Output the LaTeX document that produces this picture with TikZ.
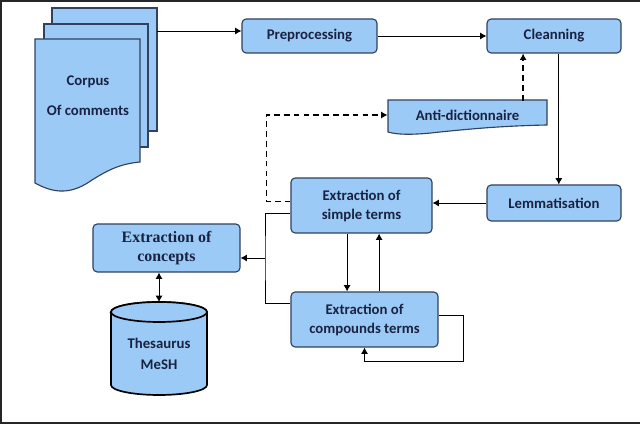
\documentclass[tikz,border=0pt]{standalone}
\usepackage{fontspec}
\setmainfont{Carlito}
\newfontfamily\timesbold{Liberation Serif}
\usepackage{tikz}
\usetikzlibrary{arrows.meta}
\definecolor{boxblue}{RGB}{156,202,246}
\definecolor{boxline}{RGB}{50,65,95}
\definecolor{textnavy}{RGB}{25,35,65}
\tikzset{
  box/.style={draw=boxline, fill=boxblue, line width=0.8pt, rounded corners=3pt,
    inner sep=0pt, align=center, text=textnavy, font=\fontsize{10.5}{12.5}\selectfont\bfseries},
  docpage/.style={draw=boxline, fill=boxblue, line width=0.8pt},
  dashline/.style={line width=1.2pt, dash pattern=on 4pt off 3pt},
}

\begin{document}
\begin{tikzpicture}[>={Latex[length=4.5pt,width=5pt]}, x=0.025cm, y=0.025cm, line width=0.6pt]
        \useasboundingbox (0,0) rectangle (640,-425);
        % frame
        \draw[line width=1pt, black!85] (640,-1) -- (1,-1) -- (1,-423) -- (640,-423);

        % corpus of comments
        \draw[docpage] (52,-8) rectangle (157,-131);
        \draw[docpage] (44,-24) rectangle (148,-147);
        \draw[docpage] (35,-39) -- (140,-39) -- (140,-162)
            .. controls (118,-164) and (105,-172) .. (92,-180)
            .. controls (75,-192) and (58,-196) .. (35,-183) -- cycle;
        \draw (88,-96) node[align=center, text=textnavy, font=\fontsize{10.5}{12.5}\selectfont\bfseries] (corpus) {Corpus\\[9pt]Of comments};
        \coordinate (corpusout) at (157,-31);

        \draw (309.5,-36) node[box, minimum width=3.375cm, minimum height=0.85cm] (prep) {Preprocessing};
        \draw (554,-36) node[box, minimum width=3.35cm, minimum height=0.85cm] (clean) {Cleanning};
        \draw (554,-203) node[box, minimum width=3.35cm, minimum height=0.9cm] (lemma) {Lemmatisation};
        \draw (361.5,-205.5) node[box, minimum width=3.525cm, minimum height=1.375cm] (simple) {Extraction of\\[1pt]simple terms};
        \draw (364.5,-319.5) node[box, minimum width=3.675cm, minimum height=1.375cm] (compound) {Extraction of\\[1pt]compounds terms};
        \draw (166.5,-248) node[box, minimum width=3.675cm, minimum height=1.2cm, font=\timesbold\fontsize{11.3}{13}\selectfont\bfseries] (concepts) {Extraction of\\concepts};

        % anti-dictionnaire
        \draw[docpage] (388,-100) -- (547,-100) -- (547,-125)
            .. controls (500,-126) and (470,-129) .. (440,-132)
            .. controls (415,-135) and (398,-135) .. (388,-132) -- cycle;
        \draw (467.5,-115) node[minimum width=3.975cm, minimum height=0.7cm, inner sep=0pt, text=textnavy, font=\fontsize{10.5}{12.5}\selectfont\bfseries] (anti) {Anti-dictionnaire};

        % thesaurus
        \draw[fill=boxblue, line width=1.2pt] (111,-312) -- (111,-385)
            arc[start angle=180, end angle=360, x radius=1.2cm, y radius=0.25cm]
            -- (207,-312) arc[start angle=0, end angle=180, x radius=1.2cm, y radius=0.25cm] -- cycle;
        \draw[fill=boxblue, line width=1.2pt] (159,-312) ellipse[x radius=1.2cm, y radius=0.25cm];
        \draw (159,-354) node[align=center, text=textnavy, font=\fontsize{10.5}{12.5}\selectfont\bfseries] (mesh) {Thesaurus\\[2pt]MeSH};
        \coordinate (meshtop) at (159,-302);

        \draw[->] (corpusout) -- (corpusout -| prep.west);
        \draw[->] (prep.east) -- (clean.west);
        \draw[->] ([xshift=0.12cm]clean.south) -- ([xshift=0.12cm]lemma.north);
        \draw[->, dashline] ([xshift=1.39cm]anti.north) -- ([xshift=1.39cm]anti.north |- clean.south);
        \draw[->] (lemma.west) -- (lemma.west -| simple.east);
        \draw[->, dashline] ([yshift=0.1cm]simple.west) -- ++(-24,0) |- (anti.west);

        \coordinate (bus) at (265,-258);
        \draw ([yshift=-0.21cm]simple.west) -| (bus) |- ([yshift=0.41cm]compound.west);
        \draw[->] (bus) -- (bus -| concepts.east);
        \draw[->] ([xshift=-0.36cm]simple.south) -- ([xshift=-0.36cm]simple.south |- compound.north);
        \draw[->] ([xshift=0.44cm]simple.south |- compound.north) -- ([xshift=0.44cm]simple.south);
        \draw[->] ([yshift=0.11cm]compound.east) -- ++(25,0) |- ([yshift=-0.35cm]compound.south) -- (compound.south);
        \draw[<->] (meshtop) -- (meshtop |- concepts.south);
    \end{tikzpicture}
\end{document}
